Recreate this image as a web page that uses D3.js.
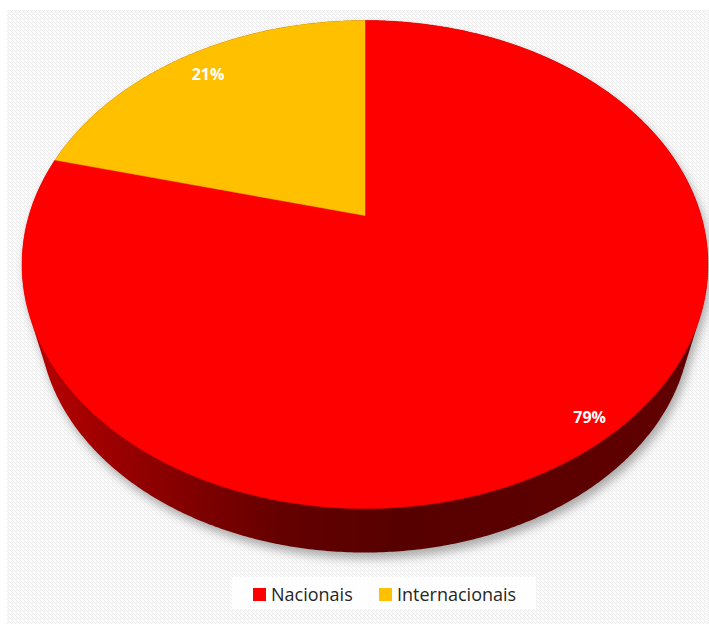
<!DOCTYPE html>
<html>
<head>
<meta charset="utf-8">
<script src="https://cdn.jsdelivr.net/npm/d3@7"></script>
<style>
  html, body { margin: 0; padding: 0; background: #ffffff; }
  svg { display: block; }
</style>
</head>
<body>
<div id="chart"></div>
<script>
// ---- data ----
const categories = ["Nacionais", "Internacionais"];
const values = [79, 21];
const labels = ["79%", "21%"];
const sliceColors = ["#FF0000", "#FFC000"];

// ---- layout ----
const W = 709, H = 626;
const cx = 365, cy = 215.5;          // projected pie centre (apex)
const P = 336, Q = 234.2, K = 0.2008; // perspective projection params
const vanishY = 1388, bottomScale = 0.95; // side extrusion
const labelRadius = [0.93, 0.867];

const svg = d3.select("#chart").append("svg")
  .attr("width", W).attr("height", H);

const defs = svg.append("defs");
const pat = defs.append("pattern")
  .attr("id", "hatch").attr("patternUnits", "userSpaceOnUse")
  .attr("width", 4).attr("height", 4);
pat.append("rect").attr("width", 4).attr("height", 4).attr("fill", "#fbfbfb");
pat.append("path").attr("d", "M-1,1 L1,3 M0,0 L4,4 M3,-1 L5,1")
  .attr("stroke", "#ececec").attr("stroke-width", 1);

const sideGrad = defs.append("linearGradient")
  .attr("id", "sideGrad").attr("gradientUnits", "userSpaceOnUse")
  .attr("x1", 22).attr("y1", 0).attr("x2", 708).attr("y2", 0);
[[0, "#bc0000"], [0.18, "#900000"], [0.38, "#640000"], [0.55, "#570000"], [1, "#620000"]]
  .forEach(([o, c]) => sideGrad.append("stop").attr("offset", o).attr("stop-color", c));

const shadow = defs.append("filter").attr("id", "shadow")
  .attr("x", "-10%").attr("y", "-10%").attr("width", "120%").attr("height", "130%");
shadow.append("feGaussianBlur").attr("stdDeviation", 5);

// background
svg.append("rect").attr("x", 7).attr("y", 10).attr("width", W - 7).attr("height", 614)
  .attr("fill", "url(#hatch)");

// projection of a point on the disk: angle a (clockwise from top), radius fraction r
function proj(a, r) {
  const u = Math.sin(a) * r, v = Math.cos(a) * r;
  const w = 1 + K * v;
  return [cx + P * u / w, cy - Q * v / w];
}
function toBottom(p) {
  return [cx + bottomScale * (p[0] - cx), vanishY + bottomScale * (p[1] - vanishY)];
}

const pie = d3.pie().sort(null).value(d => d);
const arcs = pie(values);

// rim points
const rim = d3.range(0, 721).map(i => proj(i / 720 * 2 * Math.PI, 1));
const bottomRim = rim.map(toBottom);
const hull = d3.polygonHull(rim.concat(bottomRim));

const line = d3.line().curve(d3.curveLinearClosed);

// shadow
svg.append("path").attr("d", line(hull))
  .attr("transform", "translate(3,6)")
  .attr("fill", "#8a8a8a").attr("opacity", 0.7)
  .attr("filter", "url(#shadow)");

// side
svg.append("path").attr("d", line(hull)).attr("fill", "url(#sideGrad)");

// top slices
function slicePoints(d) {
  const n = Math.max(2, Math.ceil((d.endAngle - d.startAngle) / (Math.PI / 360)));
  const pts = [[cx, cy]];
  for (let i = 0; i <= n; i++) {
    const a = d.startAngle + (d.endAngle - d.startAngle) * i / n;
    pts.push(proj(a, 1));
  }
  return pts;
}
svg.append("g").selectAll("path").data(arcs).join("path")
  .attr("d", d => line(slicePoints(d)))
  .attr("fill", (d, i) => sliceColors[i])
  .attr("stroke", (d, i) => sliceColors[i]).attr("stroke-width", 0.5);

// labels
svg.append("g").selectAll("text").data(arcs).join("text")
  .attr("x", (d, i) => proj((d.startAngle + d.endAngle) / 2, labelRadius[i])[0])
  .attr("y", (d, i) => proj((d.startAngle + d.endAngle) / 2, labelRadius[i])[1])
  .attr("text-anchor", "middle").attr("dominant-baseline", "central")
  .attr("font-family", "'Open Sans', sans-serif").attr("font-weight", "bold")
  .attr("font-size", 16).attr("fill", "#ffffff")
  .text((d, i) => labels[i]);

// legend
const lg = svg.append("g");
lg.append("rect").attr("x", 232).attr("y", 577).attr("width", 304).attr("height", 32)
  .attr("fill", "#ffffff").attr("opacity", 0.85);
const legX = [253, 379];
const items = lg.selectAll("g").data(categories).join("g")
  .attr("transform", (d, i) => `translate(${legX[i]},0)`);
items.append("rect").attr("x", 0).attr("y", 588).attr("width", 13).attr("height", 13)
  .attr("fill", (d, i) => sliceColors[i]);
items.append("text").attr("x", 18).attr("y", 601)
  .attr("font-family", "'Open Sans', sans-serif").attr("font-size", 18)
  .attr("fill", "#262626").text(d => d);
</script>
</body>
</html>
